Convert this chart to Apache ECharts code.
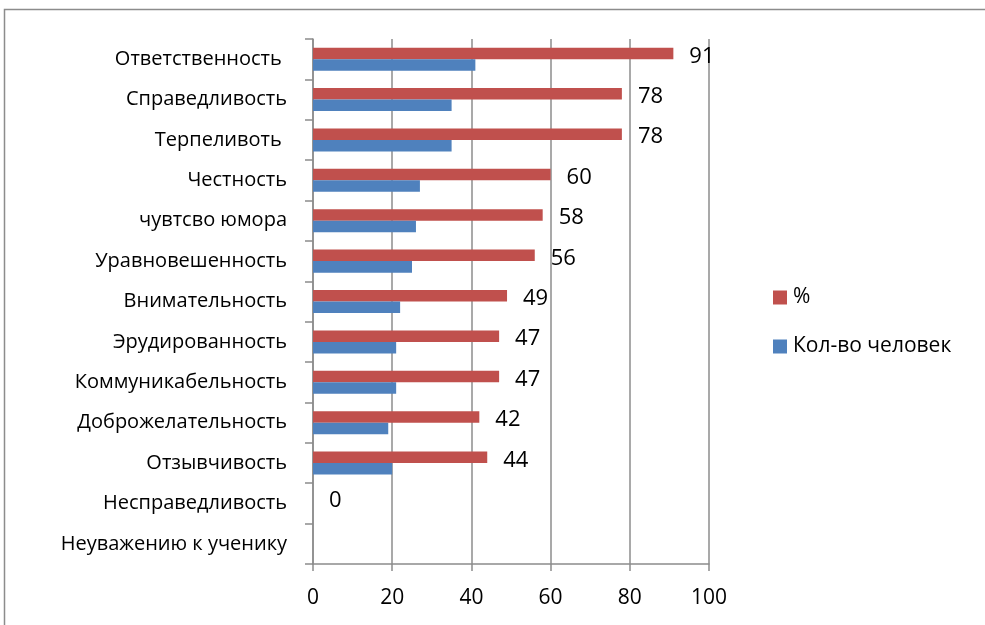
<!DOCTYPE html>
<html lang="ru">
  <head>
    <meta charset="UTF-8" />
    <title>Качества учителя</title>
    <style>
      html, body { margin: 0; padding: 0; background: #fff; overflow: hidden; }
      #main { width: 985px; height: 625px; }
    </style>
  </head>
  <body>
    <div id="main"></div>
    <script src="https://cdn.jsdelivr.net/npm/echarts@6/dist/echarts.min.js"></script>
    <script>
      // категории сверху вниз
      var categories = [
        'Ответственность ', 'Справедливость', 'Терпеливоть ', 'Честность',
        'чувтсво юмора', 'Уравновешенность', 'Внимательность', 'Эрудированность',
        'Коммуникабельность', 'Доброжелательность', 'Отзывчивость',
        'Несправедливость', 'Неуважению к ученику'
      ];
      var percent = [91, 78, 78, 60, 58, 56, 49, 47, 47, 42, 44, 0, null];
      var people = [41, 35, 35, 27, 26, 25, 22, 21, 21, 19, 20, 0, null];
      var xTicks = [0, 20, 40, 60, 80, 100];

      var font = '"Open Sans", "Noto Sans", sans-serif';
      var gray = '#8c8c8c';

      var chart = echarts.init(document.getElementById('main'));
      var option = {
        animation: false,
        textStyle: { fontFamily: font },
        graphic: [{
          type: 'rect',
          shape: { x: 4.5, y: 9.5, width: 1000, height: 700 },
          style: { fill: 'none', stroke: gray, lineWidth: 1.5 },
          silent: true
        }],
        legend: {
          data: ['%', 'Кол-во человек'],
          orient: 'vertical',
          left: 768,
          top: 282,
          itemWidth: 14,
          itemHeight: 14,
          itemGap: 28,
          icon: 'rect',
          textStyle: { fontFamily: font, fontSize: 21, color: '#000', padding: [0, 0, 0, 1] }
        },
        grid: { left: 313, right: 276, top: 39, bottom: 61 },
        xAxis: {
          type: 'value',
          min: xTicks[0],
          max: xTicks[xTicks.length - 1],
          interval: 20,
          axisLine: { show: true, lineStyle: { color: gray, width: 1.5 } },
          axisTick: { show: true, length: 7, lineStyle: { color: gray, width: 1.5 } },
          splitLine: { show: true, lineStyle: { color: gray, width: 1.5 } },
          axisLabel: { fontFamily: font, fontSize: 21, color: '#000', margin: 24 }
        },
        yAxis: {
          type: 'category',
          inverse: true,
          data: categories,
          axisLine: { show: true, lineStyle: { color: gray, width: 1.5 } },
          axisTick: { show: true, length: 8, lineStyle: { color: gray, width: 1.5 } },
          axisLabel: { fontFamily: font, fontSize: 20, color: '#000', margin: 26, padding: [4, 0, 0, 0] }
        },
        series: [
          {
            name: '%',
            type: 'bar',
            data: percent,
            barGap: '0%',
            barCategoryGap: '43%',
            itemStyle: { color: '#C0504D' },
            label: {
              show: true,
              position: 'right',
              distance: 16,
              offset: [0, 3],
              fontFamily: font,
              fontSize: 22,
              color: '#000'
            }
          },
          {
            name: 'Кол-во человек',
            type: 'bar',
            data: people,
            barGap: '0%',
            barCategoryGap: '43%',
            itemStyle: { color: '#4F81BD' }
          }
        ]
      };
      chart.setOption(option);
    </script>
  </body>
</html>
